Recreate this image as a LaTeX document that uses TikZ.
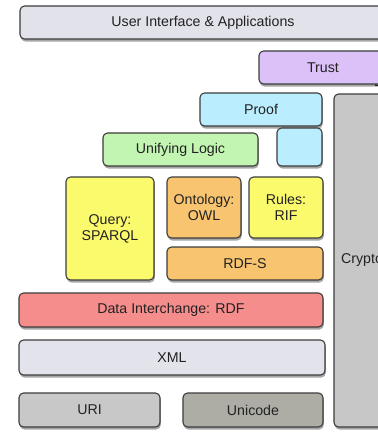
\documentclass[tikz,border=0pt]{standalone}
\usepackage{fontspec}
\setmainfont{Liberation Sans}
\usetikzlibrary{shadows}
\definecolor{edgec}{HTML}{3C3C3C}
\definecolor{textc}{HTML}{222222}
\definecolor{uic}{HTML}{E2E2EA}
\definecolor{trustc}{HTML}{DCC0F8}
\definecolor{proofc}{HTML}{BAEEFF}
\definecolor{logicc}{HTML}{C3F5B2}
\definecolor{yelc}{HTML}{FBF96C}
\definecolor{orac}{HTML}{F8C470}
\definecolor{rdfc}{HTML}{F68D8D}
\definecolor{xmlc}{HTML}{E3E3EC}
\definecolor{uric}{HTML}{C8C8C8}
\definecolor{unic}{HTML}{ADADA6}
\definecolor{cryc}{HTML}{C7C7C7}
\tikzset{
  layer/.style={draw=edgec, line width=1.1pt, rounded corners=4.5pt, inner sep=0pt,
    text=textc, align=center, font=\fontsize{14.2}{16}\selectfont,
    drop shadow={shadow xshift=0.8pt, shadow yshift=-2.5pt, opacity=0.35, fill=black}},
}
\newcommand{\lyr}[6]{\node[layer, fill=#1, minimum width=#4pt, minimum height=#5pt] (#6) at (#2,#3) {};}
\begin{document}
\begin{tikzpicture}[x=1pt, y=-1pt]
\useasboundingbox (0,0) rectangle (378,432);
\clip (0,0) rectangle (378,432);
\fill[white] (0,0) rectangle (378,432);
\node[layer, fill=uic, minimum width=366pt, minimum height=33pt] (ui) at (203,22.5) {User Interface \& Applications};
\node[draw=edgec, line width=1.1pt, fill=white, minimum width=8pt, minimum height=16pt, inner sep=0pt] (cut) at (380,77.5) {};
\node[layer, fill=trustc, minimum width=128pt, minimum height=33pt] (trust) at (323,67.5) {Trust};
\node[layer, fill=cryc, minimum width=56pt, minimum height=333pt] (crypto) at (362,260.5) {Crypto};
\node[layer, fill=proofc, minimum width=122pt, minimum height=33pt] (proof) at (261,109.5) {Proof};
\node[layer, fill=proofc, minimum width=45pt, minimum height=38pt] (proofb) at (299.5,147) {};
\node[layer, fill=logicc, minimum width=155pt, minimum height=33pt] (logic) at (180.5,149.5) {Unifying Logic};
\node[layer, fill=yelc, minimum width=88pt, minimum height=103pt] (query) at (110,228.5) {Query:\\SPARQL};
\node[layer, fill=orac, minimum width=74pt, minimum height=61pt] (owl) at (204,207.5) {Ontology:\\OWL};
\node[layer, fill=yelc, minimum width=74pt, minimum height=61pt] (rif) at (286,207.5) {Rules:\\RIF};
\node[layer, fill=orac, minimum width=156pt, minimum height=33pt] (rdfs) at (245,263.5) {RDF-S};
\node[layer, fill=rdfc, minimum width=304pt, minimum height=34pt] (rdf) at (171,310) {Data Interchange: RDF};
\node[layer, fill=xmlc, minimum width=306pt, minimum height=35pt] (xml) at (172,357.5) {XML};
\node[layer, fill=uric, minimum width=141pt, minimum height=34pt] (uri) at (89.5,410) {URI};
\node[layer, fill=unic, minimum width=140pt, minimum height=34pt] (unicode) at (253,410) {Unicode};
\end{tikzpicture}
\end{document}
